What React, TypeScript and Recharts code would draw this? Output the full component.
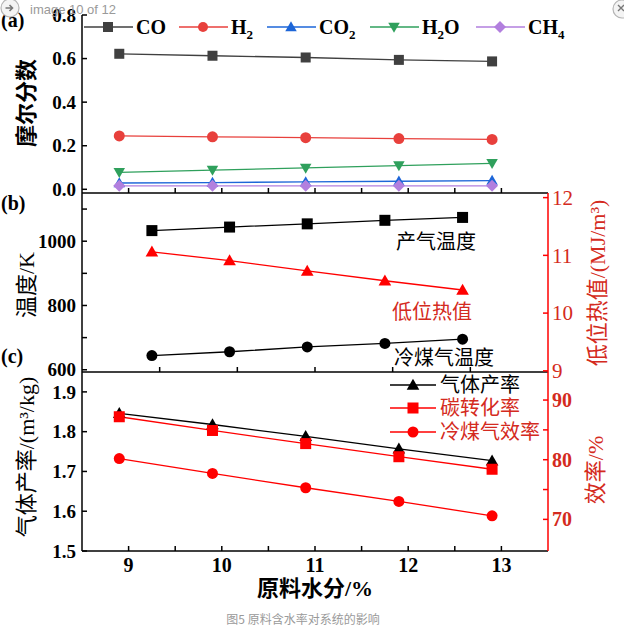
import React from "react";
import { ComposedChart, Line, XAxis, YAxis } from "recharts";

// 原料水分 (%)
const moisture = [8.9, 9.9, 10.9, 11.9, 12.9];

// (a) 摩尔分数
const coFrac = [0.622, 0.613, 0.605, 0.594, 0.587];
const h2Frac = [0.245, 0.241, 0.237, 0.233, 0.229];
const co2Frac = [0.029, 0.031, 0.034, 0.037, 0.04];
const h2oFrac = [0.078, 0.088, 0.098, 0.109, 0.119];
const ch4Frac = [0.016, 0.016, 0.016, 0.016, 0.016];

// (b) 温度 / 低位热值
const gasTemp = [1033, 1044, 1054, 1065, 1074];
const coldGasTemp = [644, 656, 671, 682, 695];
const lhv = [11.06, 10.91, 10.73, 10.56, 10.4];

// (c) 气体产率 / 效率
const gasYield = [1.846, 1.818, 1.788, 1.757, 1.727];
const carbonConv = [87.2, 84.9, 82.7, 80.5, 78.4];
const coldGasEff = [80.2, 77.7, 75.3, 73.0, 70.6];

const xTicksAC = [9, 9.5, 10, 10.5, 11, 11.5, 12, 12.5, 13];
const xTicksB = [9, 10, 11, 12, 13];
const fracTicks = [0, 0.2, 0.4, 0.6, 0.8];
const tempTicks = [600, 700, 800, 900, 1000, 1100];
const lhvTicks = [9, 10, 11, 12];
const yieldTicks = [1.5, 1.55, 1.6, 1.65, 1.7, 1.75, 1.8, 1.85, 1.9];
const effTicks = [70, 75, 80, 85, 90];

const data = moisture.map((m, i) => ({
  m,
  co: coFrac[i],
  h2: h2Frac[i],
  co2: co2Frac[i],
  h2o: h2oFrac[i],
  ch4: ch4Frac[i],
  gasTemp: gasTemp[i],
  coldTemp: coldGasTemp[i],
  lhv: lhv[i],
  yield: gasYield[i],
  conv: carbonConv[i],
  eff: coldGasEff[i],
}));

const SERIF = "'Liberation Serif', 'Noto Sans CJK SC', serif";
const RED = "#ff0000";
const RED_TEXT = "#d42a20";
const W = 624;
const H = 627;

const C = {
  co: "#404040",
  h2: "#e8403c",
  co2: "#1d66d8",
  h2o: "#2fa05c",
  ch4: "#b27fde",
};

type Shape = "square" | "circle" | "triangle" | "down" | "diamond";

function Marker({ cx, cy, shape, fill, size = 10 }: { cx: number; cy: number; shape: Shape; fill: string; size?: number }) {
  const h = size / 2;
  if (shape === "square") return <rect x={cx - h} y={cy - h} width={size} height={size} fill={fill} />;
  if (shape === "circle") return <circle cx={cx} cy={cy} r={h} fill={fill} />;
  if (shape === "triangle")
    return <polygon points={`${cx},${cy - h * 1.15} ${cx + h * 1.15},${cy + h * 0.85} ${cx - h * 1.15},${cy + h * 0.85}`} fill={fill} />;
  if (shape === "down")
    return <polygon points={`${cx},${cy + h * 1.15} ${cx + h * 1.15},${cy - h * 0.85} ${cx - h * 1.15},${cy - h * 0.85}`} fill={fill} />;
  return <polygon points={`${cx},${cy - h * 1.2} ${cx + h * 1.2},${cy} ${cx},${cy + h * 1.2} ${cx - h * 1.2},${cy}`} fill={fill} />;
}

const dotOf = (shape: Shape, fill: string, size = 10) => (p: any) => {
  if (p.cx == null || p.cy == null) return <g key={p.index} />;
  return <Marker key={p.index} cx={p.cx} cy={p.cy} shape={shape} fill={fill} size={size} />;
};

const isMult = (v: number, step: number) => Math.abs(v / step - Math.round(v / step)) < 1e-6;

const makeTick =
  (show: (v: number) => boolean, fmt: (v: number) => string, fill: string, size: number, weight: string | number) =>
  (p: any) => {
    const v = p.payload?.value;
    if (v == null || !show(v)) return <g />;
    return (
      <text x={p.x} y={p.y} dy="0.35em" textAnchor={p.textAnchor} fill={fill} fontSize={size} fontWeight={weight} fontFamily={SERIF}>
        {fmt(v)}
      </text>
    );
  };

const noLabel = () => <g />;

const axisBlack = { stroke: "#000", strokeWidth: 1.5 };
const axisRed = { stroke: RED, strokeWidth: 1.5 };

function PanelA() {
  return (
    <ComposedChart width={W} height={H} data={data} margin={{ top: 15, right: 76, bottom: H - 193 - 7, left: 0 }}>
      <XAxis
        dataKey="m"
        type="number"
        domain={[8.5, 13.5]}
        ticks={xTicksAC}
        height={7}
        tickSize={-5}
        tick={noLabel}
        axisLine={axisBlack}
        tickLine={axisBlack}
        allowDataOverflow
      />
      <YAxis
        domain={[-0.017, 0.8]}
        ticks={fracTicks}
        width={82}
        tickSize={-5}
        tickMargin={11}
        tick={makeTick(() => true, (v) => v.toFixed(1), "#000", 19, "bold")}
        axisLine={axisBlack}
        tickLine={axisBlack}
        allowDataOverflow
      />
      <Line dataKey="co" stroke={C.co} strokeWidth={1.3} dot={dotOf("square", C.co, 10)} isAnimationActive={false} />
      <Line dataKey="h2" stroke={C.h2} strokeWidth={1.3} dot={dotOf("circle", C.h2, 11)} isAnimationActive={false} />
      <Line dataKey="h2o" stroke={C.h2o} strokeWidth={1.3} dot={dotOf("down", C.h2o, 10)} isAnimationActive={false} />
      <Line dataKey="co2" stroke={C.co2} strokeWidth={1.3} dot={dotOf("triangle", C.co2, 10)} isAnimationActive={false} />
      <Line dataKey="ch4" stroke={C.ch4} strokeWidth={1.3} dot={dotOf("diamond", C.ch4, 10)} isAnimationActive={false} />
    </ComposedChart>
  );
}

function PanelB() {
  return (
    <ComposedChart width={W} height={H} data={data} margin={{ top: 193, right: 0, bottom: H - 372 - 7, left: 0 }}>
      <XAxis
        dataKey="m"
        type="number"
        domain={[8, 14]}
        ticks={xTicksB}
        height={7}
        tickSize={-5}
        tick={noLabel}
        axisLine={axisBlack}
        tickLine={axisBlack}
        allowDataOverflow
      />
      <YAxis
        yAxisId="l"
        domain={[593, 1150]}
        ticks={tempTicks}
        width={82}
        tickSize={-5}
        tickMargin={11}
        tick={makeTick((v) => isMult(v, 200), (v) => String(v), "#000", 19, "bold")}
        axisLine={axisBlack}
        tickLine={axisBlack}
        allowDataOverflow
      />
      <YAxis
        yAxisId="r"
        orientation="right"
        domain={[8.98, 12.08]}
        ticks={lhvTicks}
        width={76}
        tickSize={-5}
        tickMargin={9}
        tick={makeTick(() => true, (v) => String(v), RED_TEXT, 21, "normal")}
        axisLine={axisRed}
        tickLine={axisRed}
        allowDataOverflow
      />
      <Line yAxisId="l" dataKey="gasTemp" stroke="#000" strokeWidth={1.3} dot={dotOf("square", "#000", 11)} isAnimationActive={false} />
      <Line yAxisId="l" dataKey="coldTemp" stroke="#000" strokeWidth={1.3} dot={dotOf("circle", "#000", 11)} isAnimationActive={false} />
      <Line yAxisId="r" dataKey="lhv" stroke={RED} strokeWidth={1.3} dot={dotOf("triangle", RED, 11)} isAnimationActive={false} />
    </ComposedChart>
  );
}

function PanelC() {
  return (
    <ComposedChart width={W} height={H} data={data} margin={{ top: 372, right: 0, bottom: H - 551 - 40, left: 0 }}>
      <XAxis
        dataKey="m"
        type="number"
        domain={[8.5, 13.5]}
        ticks={xTicksAC}
        height={40}
        tickSize={-5}
        tickMargin={19}
        tick={makeTick((v) => isMult(v, 1), (v) => String(v), "#000", 20, "bold")}
        axisLine={axisBlack}
        tickLine={axisBlack}
        allowDataOverflow
      />
      <YAxis
        yAxisId="l"
        domain={[1.5, 1.95]}
        ticks={yieldTicks}
        width={82}
        tickSize={-5}
        tickMargin={11}
        tick={makeTick((v) => isMult(v, 0.1), (v) => v.toFixed(1), "#000", 19, "bold")}
        axisLine={axisBlack}
        tickLine={axisBlack}
        allowDataOverflow
      />
      <YAxis
        yAxisId="r"
        orientation="right"
        domain={[64.7, 94.7]}
        ticks={effTicks}
        width={76}
        tickSize={-5}
        tickMargin={9}
        tick={makeTick((v) => isMult(v, 10), (v) => String(v), RED_TEXT, 20, "bold")}
        axisLine={axisRed}
        tickLine={axisRed}
        allowDataOverflow
      />
      <Line yAxisId="l" dataKey="yield" stroke="#000" strokeWidth={1.3} dot={dotOf("triangle", "#000", 11)} isAnimationActive={false} />
      <Line yAxisId="r" dataKey="conv" stroke={RED} strokeWidth={1.3} dot={dotOf("square", RED, 11)} isAnimationActive={false} />
      <Line yAxisId="r" dataKey="eff" stroke={RED} strokeWidth={1.3} dot={dotOf("circle", RED, 11)} isAnimationActive={false} />
    </ComposedChart>
  );
}

const legendA: { key: keyof typeof C; shape: Shape; x: number; label: React.ReactNode }[] = [
  { key: "co", shape: "square", x: 84, label: "CO" },
  { key: "h2", shape: "circle", x: 179, label: <>H<tspan dy={5} fontSize={13}>2</tspan></> },
  { key: "co2", shape: "triangle", x: 267, label: <>CO<tspan dy={5} fontSize={13}>2</tspan></> },
  { key: "h2o", shape: "down", x: 370, label: <>H<tspan dy={5} fontSize={13}>2</tspan><tspan dy={-5}>O</tspan></> },
  { key: "ch4", shape: "diamond", x: 476, label: <>CH<tspan dy={5} fontSize={13}>4</tspan></> },
];

const legendC: { shape: Shape; color: string; text: string; textColor: string; y: number }[] = [
  { shape: "triangle", color: "#000", text: "气体产率", textColor: "#000", y: 385 },
  { shape: "square", color: RED, text: "碳转化率", textColor: RED_TEXT, y: 408 },
  { shape: "circle", color: RED, text: "冷煤气效率", textColor: RED_TEXT, y: 432 },
];

function Overlay() {
  return (
    <svg width={W} height={H} style={{ position: "absolute", left: 0, top: 0, pointerEvents: "none" }}>
      {/* panel a legend */}
      {legendA.map((it) => (
        <g key={it.key}>
          <line x1={it.x} x2={it.x + 49} y1={27} y2={27} stroke={C[it.key]} strokeWidth={1.3} />
          <Marker cx={it.x + 24} cy={27} shape={it.shape} fill={C[it.key]} size={10} />
          <text x={it.x + 52} y={34} fontFamily={SERIF} fontWeight="bold" fontSize={20} fill="#000">
            {it.label}
          </text>
        </g>
      ))}

      {/* panel c legend */}
      {legendC.map((it) => (
        <g key={it.text}>
          <line x1={390} x2={436} y1={it.y} y2={it.y} stroke={it.color} strokeWidth={1.3} />
          <Marker cx={413} cy={it.y} shape={it.shape} fill={it.color} size={11} />
          <text x={440} y={it.y} dominantBaseline="central" fontFamily={SERIF} fontSize={20} fill={it.textColor}>
            {it.text}
          </text>
        </g>
      ))}

      {/* series notes in panel b */}
      <text x={396} y={242} dominantBaseline="central" fontFamily={SERIF} fontSize={20} fill="#000">产气温度</text>
      <text x={392} y={312} dominantBaseline="central" fontFamily={SERIF} fontSize={20} fill={RED_TEXT}>低位热值</text>
      <text x={394} y={358} dominantBaseline="central" fontFamily={SERIF} fontSize={20} fill="#000">冷煤气温度</text>

      {/* panel tags */}
      <text x={1} y={20} dominantBaseline="central" fontFamily={SERIF} fontWeight="bold" fontSize={20}>(a)</text>
      <text x={1} y={203} dominantBaseline="central" fontFamily={SERIF} fontWeight="bold" fontSize={20}>(b)</text>
      <text x={1} y={356} dominantBaseline="central" fontFamily={SERIF} fontWeight="bold" fontSize={20}>(c)</text>

      {/* axis titles */}
      <text transform="translate(26,103) rotate(-90)" textAnchor="middle" dominantBaseline="central" fontFamily={SERIF} fontWeight="bold" fontSize={22}>摩尔分数</text>
      <text transform="translate(26,285) rotate(-90)" textAnchor="middle" dominantBaseline="central" fontFamily={SERIF} fontSize={22}>温度/K</text>
      <text transform="translate(26,457) rotate(-90)" textAnchor="middle" dominantBaseline="central" fontFamily={SERIF} fontSize={22}>气体产率/(m³/kg)</text>
      <text transform="translate(597,283) rotate(-90)" textAnchor="middle" dominantBaseline="central" fontFamily={SERIF} fontSize={22} fill={RED_TEXT}>低位热值/(MJ/m³)</text>
      <text transform="translate(595,470) rotate(-90)" textAnchor="middle" dominantBaseline="central" fontFamily={SERIF} fontSize={22} fill={RED_TEXT}>效率/%</text>
      <text x={315} y={588} textAnchor="middle" dominantBaseline="central" fontFamily={SERIF} fontWeight="bold" fontSize={22}>原料水分/%</text>

      {/* caption */}
      <text x={303} y={618} textAnchor="middle" dominantBaseline="central" fontFamily="'Noto Sans CJK SC', sans-serif" fontSize={12} fill="#9a9a9a">
        图5 原料含水率对系统的影响
      </text>

      {/* viewer chrome */}
      <circle cx={10} cy={8} r={9} fill="#f4f4f4" stroke="#b5b5b5" strokeWidth={1.2} />
      <path d="M5.5,8 H12 M9.5,5 L12.5,8 L9.5,11" stroke="#777" strokeWidth={1.6} fill="none" />
      <text x={30} y={9} dominantBaseline="central" fontFamily="'Liberation Sans', sans-serif" fontSize={13} fill="#9a9a9a">image 10 of 12</text>
      <circle cx={622} cy={9} r={9} fill="#f4f4f4" stroke="#b5b5b5" strokeWidth={1.2} />
      <path d="M618,5 L624,11 M624,5 L618,11" stroke="#777" strokeWidth={1.4} />
    </svg>
  );
}

export default function App() {
  return (
    <div style={{ position: "absolute", left: 0, top: 0, width: W, height: H, background: "#fff", overflow: "hidden" }}>
      <div style={{ position: "absolute", left: 0, top: 0 }}>
        <PanelA />
      </div>
      <div style={{ position: "absolute", left: 0, top: 0 }}>
        <PanelB />
      </div>
      <div style={{ position: "absolute", left: 0, top: 0 }}>
        <PanelC />
      </div>
      <Overlay />
    </div>
  );
}
